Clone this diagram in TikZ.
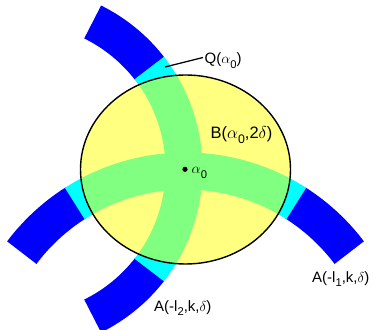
\documentclass[tikz,border=0pt]{standalone}
\usepackage{fontspec}
\setmainfont{Liberation Sans}
\definecolor{bandblue}{RGB}{0,0,255}
\definecolor{bandcyan}{RGB}{0,255,255}
\definecolor{ballyellow}{RGB}{255,255,128}
\definecolor{ballgreen}{RGB}{128,255,128}
\newcommand\lowsub[1]{\raisebox{-0.55ex}{\scalebox{0.75}{#1}}}
\tikzset{
  band/.style={line width=37pt, line cap=butt},
  lbl/.style={anchor=base west, inner sep=0pt, font=\fontsize{15}{17}\selectfont},
  biglbl/.style={anchor=base west, inner sep=0pt, font=\fontsize{16.5}{18}\selectfont},
}
\begin{document}
\begin{tikzpicture}[x=1pt,y=1pt]
\useasboundingbox (0,0) rectangle (374,329);
\coordinate (hc) at (185.5,-47);
\coordinate (vc) at (20,160);
\coordinate (ec) at (185.5,159.5);
% horizontal band
\draw[band,bandblue] (hc) ++(37:205) arc[start angle=37,end angle=57.6,radius=205];
\draw[band,bandblue] (hc) ++(122.4:205) arc[start angle=122.4,end angle=143,radius=205];
\draw[band,bandcyan] (hc) ++(57.3:205) arc[start angle=57.3,end angle=122.7,radius=205];
% vertical band
\draw[band,bandblue] (vc) ++(-63.7:164) arc[start angle=-63.7,end angle=-37.7,radius=164];
\draw[band,bandblue] (vc) ++(37.7:164) arc[start angle=37.7,end angle=63.7,radius=164];
\draw[band,bandcyan] (vc) ++(-38:164) arc[start angle=-38,end angle=38,radius=164];
% ball
\fill[ballyellow] (ec) ellipse[x radius=105, y radius=94.5];
\begin{scope}
  \clip (ec) ellipse[x radius=105, y radius=94.5];
  \draw[band,ballgreen] (hc) ++(50:205) arc[start angle=50,end angle=130,radius=205];
  \draw[band,ballgreen] (vc) ++(-50:164) arc[start angle=-50,end angle=50,radius=164];
\end{scope}
\draw[line width=1.4pt] (ec) ellipse[x radius=105, y radius=94.5];
% centre point
\fill (185,159.7) circle[radius=2.6];
\node[lbl] (a0) at (191.5,155) {$\alpha$\lowsub{0}};
% labels
\node[biglbl] (B) at (210.5,190.5) {B($\alpha$\lowsub{0},2$\delta$)};
\node[lbl] (Q) at (204.5,265) {Q($\alpha$\lowsub{0})};
\coordinate (qpt) at (165,262);
\coordinate (qend) at (203,271.5);
\draw[line width=1.3pt] (qpt) -- (qend);
\node[lbl] (A1) at (312,47) {A(-l\lowsub{1},k,$\delta$)};
\node[lbl] (A2) at (154,18) {A(-l\lowsub{2},k,$\delta$)};
\end{tikzpicture}
\end{document}
